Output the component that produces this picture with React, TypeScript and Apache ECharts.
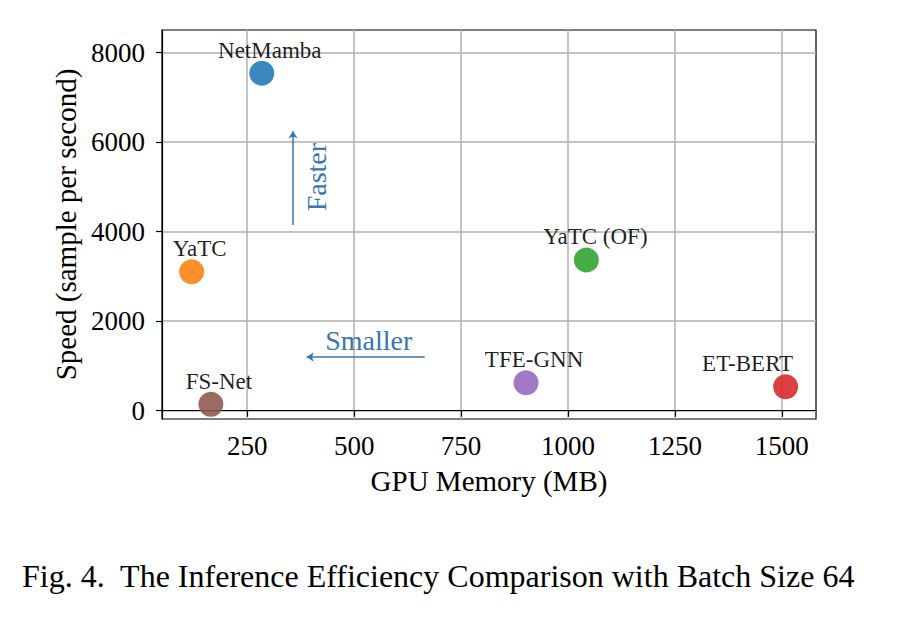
import React, { useEffect, useRef } from "react";
import * as echarts from "echarts";

const names = ["NetMamba", "YaTC", "YaTC (OF)", "ET-BERT", "TFE-GNN", "FS-Net"];
const memoryMB = [284, 120, 1043, 1509, 902, 165];
const speed = [7540, 3106, 3368, 536, 626, 143];
const colors = ["#1f77b4", "#ff7f0e", "#2ca02c", "#d62728", "#9467bd", "#8c564b"];
const labelOffsets = [[8, 0], [8, 0], [9, 0], [-38, 0], [8, 0], [8, 0]];

const xTicks = [250, 500, 750, 1000, 1250, 1500];
const yTicks = [0, 2000, 4000, 6000, 8000];

const fasterArrow = [[357, 4150], [357, 6246]];
const smallerArrow = [[665, 1200], [389, 1200]];
const fasterText = [411, 5220];
const smallerText = [534, 1578];

const caption = "Fig. 4.  The Inference Efficiency Comparison with Batch Size 64";

const SERIF = "Liberation Serif";
const ARROW = "#3a75b0";

export default function App() {
  const ref = useRef<HTMLDivElement>(null);
  useEffect(() => {
    if (!ref.current) return;
    const chart = echarts.init(ref.current, null, { renderer: "svg" });
    chart.setOption({
      animation: false,
      backgroundColor: "#ffffff",
      textStyle: { fontFamily: SERIF },
      grid: {
        left: 162,
        right: 94,
        top: 30,
        bottom: 201,
        show: true,
        borderColor: "#000",
        borderWidth: 1.2,
        backgroundColor: "transparent",
      },
      xAxis: {
        type: "value",
        min: 50.7,
        max: 1580,
        name: "GPU Memory (MB)",
        nameLocation: "middle",
        nameGap: 47,
        nameTextStyle: { fontFamily: SERIF, fontSize: 29, color: "#000" },
        axisLine: { show: true, lineStyle: { color: "#000", width: 1.2 } },
        axisTick: { show: true, length: 6, lineStyle: { color: "#000", width: 1.2 }, customValues: xTicks },
        axisLabel: {
          fontFamily: SERIF, fontSize: 27, color: "#000", margin: 13, customValues: xTicks,
          formatter: (v: number) => String(v),
        },
        splitLine: { show: true, lineStyle: { color: "#b0b0b0", width: 1.5 } },
      },
      yAxis: {
        type: "value",
        min: -185,
        max: 8507,
        name: "Speed (sample per second)",
        nameLocation: "middle",
        nameGap: 81,
        nameTextStyle: { fontFamily: SERIF, fontSize: 29, color: "#000" },
        axisLine: { show: true, lineStyle: { color: "#000", width: 1.2 } },
        axisTick: { show: true, length: 6, lineStyle: { color: "#000", width: 1.2 }, customValues: yTicks },
        axisLabel: {
          fontFamily: SERIF, fontSize: 27, color: "#000", margin: 17, customValues: yTicks,
          formatter: (v: number) => String(v),
        },
        splitLine: { show: true, lineStyle: { color: "#b0b0b0", width: 1.5 } },
      },
      series: [
        {
          type: "scatter",
          symbolSize: 25,
          data: names.map((n, i) => ({
            name: n,
            value: [memoryMB[i], speed[i]],
            itemStyle: { color: colors[i], opacity: 0.88 },
            label: {
              show: true,
              position: "top",
              distance: -1,
              offset: labelOffsets[i],
              formatter: n,
              fontFamily: SERIF,
              fontSize: 23,
              color: "#000",
            },
          })),
          markLine: {
            silent: true,
            symbol: ["none", "arrow"],
            symbolSize: 7,
            label: { show: false },
            lineStyle: { color: ARROW, width: 1.5, type: "solid" },
            data: [
              [{ coord: fasterArrow[0] }, { coord: fasterArrow[1] }],
              [{ coord: smallerArrow[0] }, { coord: smallerArrow[1] }],
            ],
          },
          markPoint: {
            silent: true,
            symbol: "circle",
            symbolSize: 1,
            itemStyle: { color: "transparent" },
            data: [
              {
                coord: fasterText,
                label: { show: true, position: "inside", formatter: "Faster", rotate: 90, fontFamily: SERIF, fontSize: 28, color: ARROW },
              },
              {
                coord: smallerText,
                label: { show: true, position: "inside", formatter: "Smaller", fontFamily: SERIF, fontSize: 28, color: ARROW },
              },
            ],
          },
        },
      ],
      graphic: [
        {
          type: "text",
          left: 22,
          top: 560,
          style: { text: caption, fontFamily: SERIF, fontSize: 32, fill: "#000" },
        },
      ],
    });
    return () => chart.dispose();
  }, []);
  return <div ref={ref} style={{ position: "fixed", left: 0, top: 0, width: 910, height: 620 }} />;
}
